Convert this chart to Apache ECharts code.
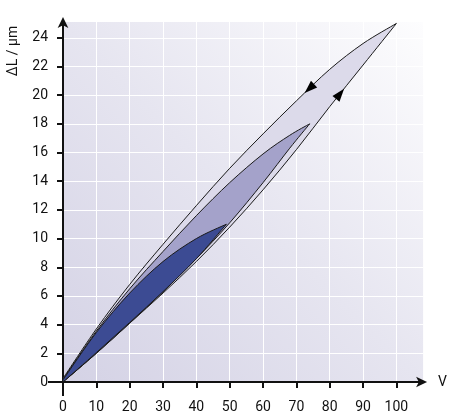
<!DOCTYPE html>
<html>
<head>
<meta charset="utf-8">
<script src="https://cdn.jsdelivr.net/npm/echarts@6/dist/echarts.min.js"></script>
<style>
  html, body { margin: 0; padding: 0; background: #fff; }
  #main { width: 450px; height: 414px; }
</style>
</head>
<body>
<div id="main"></div>
<script>
// tick labels
var xTicks = [0, 10, 20, 30, 40, 50, 60, 70, 80, 90, 100];
var yTicks = [0, 2, 4, 6, 8, 10, 12, 14, 16, 18, 20, 22, 24];

// loops: [V, dL] points, branches go from origin to the tip
var bigUp = [[0, 0.25], [10, 3.7], [20, 6.8], [30, 9.6], [40, 12.3], [50, 14.9], [60, 17.3], [70, 19.6], [80, 21.8], [90, 23.6], [100, 25]];
var bigDown = [[0, 0], [10, 2.0], [20, 4.1], [30, 6.2], [40, 8.4], [50, 10.8], [60, 13.4], [70, 16.2], [80, 19.2], [90, 22.1], [100, 25]];
var midUp = [[0, 0.2], [10, 3.55], [20, 6.5], [30, 9.1], [40, 11.6], [50, 13.9], [60, 15.9], [68, 17.2], [74, 18]];
var midDown = [[0, 0], [10, 2.0], [20, 4.1], [30, 6.3], [40, 8.6], [50, 11.1], [60, 13.9], [68, 16.3], [74, 18]];
var smallUp = [[0, 0.15], [10, 3.45], [20, 6.2], [30, 8.4], [40, 10.0], [49, 11]];
var smallDown = [[0, 0], [10, 2.05], [20, 4.15], [30, 6.3], [40, 8.6], [49, 11]];

// where the direction arrows sit on the big loop (V)
var arrowUpX = 74;
var arrowDownX = 83;

var chart = echarts.init(document.getElementById('main'));

// catmull-rom through pixel points -> bezier segments
function curve(pts) {
    var d = '';
    for (var i = 0; i < pts.length - 1; i++) {
        var p0 = pts[i - 1] || pts[i], p1 = pts[i], p2 = pts[i + 1], p3 = pts[i + 2] || pts[i + 1];
        var c1 = [p1[0] + (p2[0] - p0[0]) / 6, p1[1] + (p2[1] - p0[1]) / 6];
        var c2 = [p2[0] - (p3[0] - p1[0]) / 6, p2[1] - (p3[1] - p1[1]) / 6];
        d += ' C' + c1[0] + ',' + c1[1] + ' ' + c2[0] + ',' + c2[1] + ' ' + p2[0] + ',' + p2[1];
    }
    return d;
}

function valAt(branch, x) {
    for (var i = 0; i < branch.length - 1; i++) {
        if (x >= branch[i][0] && x <= branch[i + 1][0]) {
            var t = (x - branch[i][0]) / (branch[i + 1][0] - branch[i][0]);
            return branch[i][1] + t * (branch[i + 1][1] - branch[i][1]);
        }
    }
    return branch[branch.length - 1][1];
}

function arrowHead(api, branch, x, reverse) {
    var p = api.coord([x, valAt(branch, x)]);
    var a = api.coord([x - 3, valAt(branch, x - 3)]);
    var b = api.coord([x + 3, valAt(branch, x + 3)]);
    var dx = b[0] - a[0], dy = b[1] - a[1];
    var len = Math.sqrt(dx * dx + dy * dy);
    dx /= len; dy /= len;
    if (reverse) { dx = -dx; dy = -dy; }
    var nx = -dy, ny = dx;
    return {
        type: 'polygon',
        shape: {points: [
            [p[0] + dx * 7, p[1] + dy * 7],
            [p[0] - dx * 6 + nx * 4.5, p[1] - dy * 6 + ny * 4.5],
            [p[0] - dx * 6 - nx * 4.5, p[1] - dy * 6 - ny * 4.5]
        ]},
        style: {fill: '#000'}
    };
}

function loopSeries(up, down, color, withArrows) {
    return {
        type: 'custom',
        coordinateSystem: 'cartesian2d',
        clip: false,
        silent: true,
        data: [[0, 0]],
        renderItem: function (params, api) {
            var lo = down.map(function (p) { return api.coord(p); });
            var hi = up.slice().reverse().map(function (p) { return api.coord(p); });
            var d = 'M' + lo[0][0] + ',' + lo[0][1] + curve(lo) + curve(hi) + ' Z';
            var kids = [{
                type: 'path',
                shape: {pathData: d},
                style: {fill: color, stroke: '#1a1a1a', lineWidth: 1, lineJoin: 'miter'}
            }];
            if (withArrows) {
                kids.push(arrowHead(api, up, arrowUpX, true));
                kids.push(arrowHead(api, down, arrowDownX, false));
            }
            return {type: 'group', children: kids};
        }
    };
}

chart.setOption({
    animation: false,
    grid: {
        left: 63, right: 23, top: 22, bottom: 31,
        show: true,
        borderWidth: 0,
        backgroundColor: {
            type: 'linear', x: 0, y: 1, x2: 1, y2: 0,
            colorStops: [{offset: 0, color: '#d4d2e5'}, {offset: 0.5, color: '#e6e5f0'}, {offset: 1, color: '#fdfdfe'}]
        }
    },
    xAxis: {
        type: 'value', min: 0, max: 108, interval: 10,
        name: 'V', nameGap: 15,
        nameTextStyle: {fontFamily: 'Roboto', fontSize: 14, color: '#111'},
        axisLine: {
            show: true, onZero: false,
            lineStyle: {color: '#111', width: 2},
            symbol: ['none', 'arrow'], symbolSize: [8, 11], symbolOffset: [0, 4]
        },
        axisTick: {show: true, length: 6, lineStyle: {color: '#111', width: 2}, customValues: xTicks},
        axisLabel: {
            customValues: xTicks, margin: 18,
            fontFamily: 'Roboto', fontSize: 14, color: '#111',
            formatter: function (v) { return xTicks.indexOf(v) >= 0 ? String(v) : ''; }
        },
        splitLine: {show: true, lineStyle: {color: '#ffffff', width: 1}}
    },
    yAxis: {
        type: 'value', min: 0, max: 25.1, interval: 2,
        axisLine: {
            show: true, onZero: false,
            lineStyle: {color: '#111', width: 2},
            symbol: ['none', 'arrow'], symbolSize: [8, 11], symbolOffset: [0, 5]
        },
        axisTick: {show: true, length: 6, lineStyle: {color: '#111', width: 2}, customValues: yTicks},
        axisLabel: {
            customValues: yTicks, margin: 15,
            fontFamily: 'Roboto', fontSize: 14, color: '#111',
            formatter: function (v) { return yTicks.indexOf(v) >= 0 ? String(v) : ''; }
        },
        splitLine: {show: true, lineStyle: {color: '#ffffff', width: 1}}
    },
    graphic: [{
        type: 'text',
        x: 13, y: 51,
        rotation: Math.PI / 2,
        style: {text: 'ΔL / µm', fontFamily: 'Roboto', fontSize: 14, fill: '#111', align: 'center', verticalAlign: 'middle'}
    }],
    series: [
        loopSeries(bigUp, bigDown, '#dcdaea', true),
        loopSeries(midUp, midDown, '#a4a2ca', false),
        loopSeries(smallUp, smallDown, '#3c4b93', false),
        {
            // axis overhang past the origin
            type: 'custom',
            coordinateSystem: 'cartesian2d',
            clip: false,
            silent: true,
            z: 5,
            data: [[0, 0]],
            renderItem: function (params, api) {
                var o = api.coord([0, 0]);
                return {type: 'group', children: [
                    {type: 'line', shape: {x1: o[0] - 15, y1: o[1], x2: o[0], y2: o[1]}, style: {stroke: '#111', lineWidth: 2}},
                    {type: 'line', shape: {x1: o[0], y1: o[1], x2: o[0], y2: o[1] + 14}, style: {stroke: '#111', lineWidth: 2}}
                ]};
            }
        }
    ]
});
</script>
</body>
</html>
